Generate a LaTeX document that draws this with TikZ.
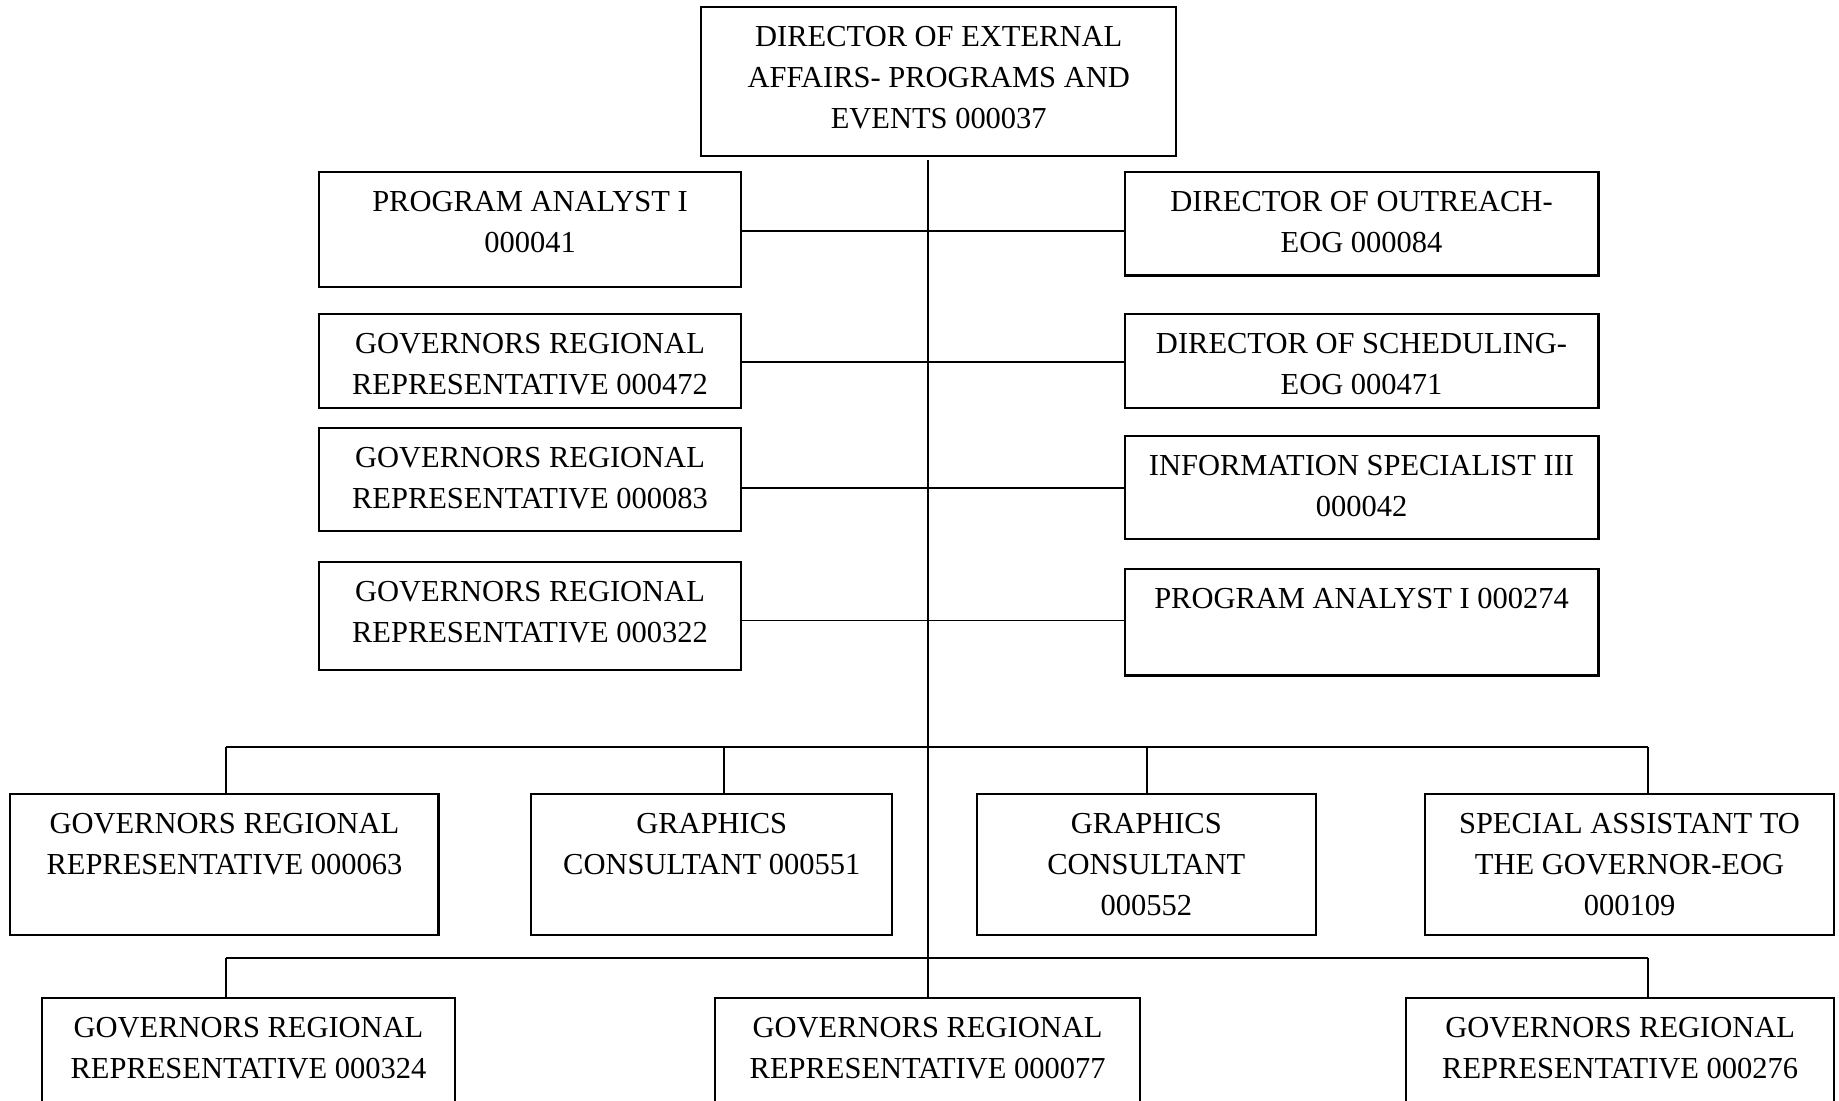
\documentclass[tikz,border=0pt]{standalone}
\usepackage{fontspec}
\setmainfont{Liberation Serif}
\begin{document}
% top-aligned, centred text block of a given width and height
\newcommand{\orgtext}[3]{\parbox[t][#2][t]{#1}{\centering\rule{0pt}{16.8pt}#3}}
\begin{tikzpicture}[x=0.5pt,y=-0.5pt,
  box/.style={draw, line width=0.9pt, inner sep=0pt, anchor=north west,
    font=\fontsize{13}{17.5}\selectfont},
  link/.style={line width=0.8pt}]
\useasboundingbox (0,0) rectangle (1568,938);
\clip (0,0) rectangle (1568,938);

% head of the unit
\node[box] (top) at (597,5) {\orgtext{202.5pt}{63.5pt}{DIRECTOR OF EXTERNAL\\AFFAIRS- PROGRAMS AND\\EVENTS 000037}};

% left column
\node[box] (pa41) at (271,146) {\orgtext{180pt}{49pt}{PROGRAM ANALYST I\\000041}};
\node[box] (g472) at (271,267) {\orgtext{180pt}{40pt}{GOVERNORS REGIONAL\\REPRESENTATIVE 000472}};
\node[box] (g83)  at (271,364) {\orgtext{180pt}{44pt}{GOVERNORS REGIONAL\\REPRESENTATIVE 000083}};
\node[box] (g322) at (271,478) {\orgtext{180pt}{46pt}{GOVERNORS REGIONAL\\REPRESENTATIVE 000322}};

% right column
\node[box] (doo)   at (958,146) {\orgtext{202pt}{44pt}{DIRECTOR OF OUTREACH-\\EOG 000084}};
\node[box] (dos)   at (958,267) {\orgtext{202pt}{40pt}{DIRECTOR OF SCHEDULING-\\EOG 000471}};
\node[box] (info)  at (958,371) {\orgtext{202pt}{44pt}{INFORMATION SPECIALIST III\\000042}};
\node[box] (pa274) at (958,484) {\orgtext{202pt}{45.5pt}{PROGRAM ANALYST I 000274}};

% first lower row
\node[box] (g63)   at (8,676)    {\orgtext{182.5pt}{60pt}{GOVERNORS REGIONAL\\REPRESENTATIVE 000063}};
\node[box] (gc551) at (452,676)  {\orgtext{154pt}{60pt}{GRAPHICS\\CONSULTANT 000551}};
\node[box] (gc552) at (832,676)  {\orgtext{144.5pt}{60pt}{GRAPHICS\\CONSULTANT\\000552}};
\node[box] (sa)    at (1214,676) {\orgtext{174.5pt}{60pt}{SPECIAL ASSISTANT TO\\THE GOVERNOR-EOG\\000109}};

% second lower row
\node[box] (g324) at (35,850)   {\orgtext{176pt}{55pt}{GOVERNORS REGIONAL\\REPRESENTATIVE 000324}};
\node[box] (g77)  at (609,850)  {\orgtext{181pt}{55pt}{GOVERNORS REGIONAL\\REPRESENTATIVE 000077}};
\node[box] (g276) at (1198,850) {\orgtext{182.5pt}{55pt}{GOVERNORS REGIONAL\\REPRESENTATIVE 000276}};

% trunk and branch points
\coordinate (trunk) at (791,136);
\coordinate (busA) at (193,637);
\coordinate (busB) at (1405,637);
\coordinate (busC) at (193,817);
\coordinate (busD) at (1405,817);

\draw[link] (trunk) -- (trunk |- g77.north);

% side connectors crossing the trunk
\draw[link] (pa41.east |- {0,197}) -- (doo.west |- {0,197});
\draw[link] (g472.east |- {0,309}) -- (dos.west |- {0,309});
\draw[link] (g83.east |- {0,416})  -- (info.west |- {0,416});
\draw[link] (g322.east |- {0,529}) -- (pa274.west |- {0,529});

% first bus
\draw[link] (busA) -- (busB);
\draw[link] (busA) -- (busA |- g63.north);
\draw[link] ({617,637}) -- ({617,637} |- gc551.north);
\draw[link] ({978,637}) -- ({978,637} |- gc552.north);
\draw[link] (busB) -- (busB |- sa.north);

% second bus
\draw[link] (busC) -- (busD);
\draw[link] (busC) -- (busC |- g324.north);
\draw[link] (busD) -- (busD |- g276.north);
\end{tikzpicture}
\end{document}
